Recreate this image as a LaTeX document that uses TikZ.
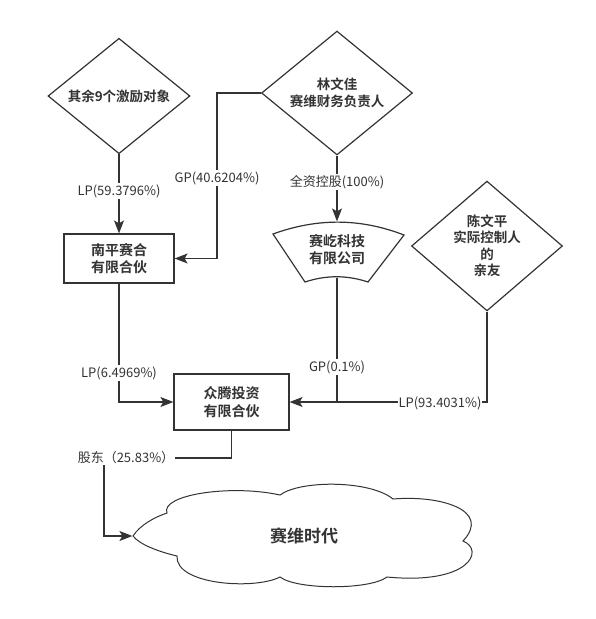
\documentclass[tikz,border=0pt]{standalone}
\usepackage{fontspec}
\setmainfont{Noto Sans CJK SC}[BoldFont={Noto Sans CJK SC Bold}]
\usetikzlibrary{calc,shapes.geometric,arrows.meta}
\definecolor{linegray}{HTML}{333333}

\begin{document}
\begin{tikzpicture}[x=1pt,y=-1pt,color=linegray,line width=1.2pt,
  dmd/.style={diamond,draw,inner sep=0pt,align=center,font=\bfseries\fontsize{13.5}{16.5}\selectfont},
  bx/.style={rectangle,draw,inner sep=0pt,align=center,font=\bfseries\fontsize{14}{17.5}\selectfont},
  txt/.style={inner sep=0pt,align=center,font=\bfseries\fontsize{14}{17.5}\selectfont},
  lbl/.style={fill=white,inner sep=1pt,font=\fontsize{13}{15}\selectfont},
  arr/.style={-{Stealth[length=13pt,width=10pt,inset=3pt]}}]
\useasboundingbox (0,0) rectangle (595,619);

%shapes
\node[dmd,minimum width=142pt,minimum height=98pt] (qy) at (119,96) {其余9个激励对象};
\node[dmd,minimum width=151pt,minimum height=92pt] (lin) at (337,93) {林文佳\\赛维财务负责人};
\node[dmd,minimum width=151pt,minimum height=105pt] (chen) at (487,246) {陈文平\\实际控制人\\的\\亲友};
\node[bx,minimum width=110pt,minimum height=49pt] (np) at (119,258.5) {南平赛合\\有限合伙};
\node[bx,minimum width=115pt,minimum height=56pt] (zt) at (231.5,402) {众腾投资\\有限合伙};
\node[txt,minimum width=131pt,minimum height=55pt] (kj) at (337,249.5) {赛屹科技\\有限公司};
\node[txt,minimum width=342pt,minimum height=102pt,font=\bfseries\fontsize{17}{20}\selectfont] (sw) at (304,536) {赛维时代};
\coordinate (gd) at (104,458);

\draw (273,234) .. controls (317,218) and (360,218) .. (404,235) -- (368,282)
  .. controls (347,275) and (326,275) .. (305,282) -- cycle;

\draw[line width=1pt] (133,536) .. controls (140,525) and (155,517) .. (167,513)
  .. controls (160,495) and (230,484) .. (280,495)
  .. controls (300,480) and (370,480) .. (393,499)
  .. controls (440,495) and (492,510) .. (463,541)
  .. controls (485,550) and (470,585) .. (387,577)
  .. controls (370,590) and (297,590) .. (280,577)
  .. controls (255,590) and (175,585) .. (177,556)
  .. controls (160,552) and (140,545) .. cycle;

%connectors
\draw[arr] (qy.south) -- (np.north);
\draw[arr] (lin.west) -- ++(-44,0) |- (np.east);
\draw[arr] (lin.south) -- (kj.north);
\draw[arr] (np.south) |- (zt.west);
\draw (kj.south) -- (kj.south |- zt.east);
\draw[arr] (chen.south) |- (zt.east);
\draw[arr] (zt.south) |- (gd) |- (sw.west);

%Labeling lines
\node[lbl] (l1) at (119,191) {LP(59.3796\%)};
\node[lbl] (l2) at (217,178) {GP(40.6204\%)};
\node[lbl] (l3) at (337,182) {全资控股(100\%)};
\node[lbl] (l4) at (119,373) {LP(6.4969\%)};
\node[lbl] (l5) at (337,367) {GP(0.1\%)};
\node[lbl] (l6) at (440,403) {LP(93.4031\%)};
\node[lbl] (l7) at (126,458) {股东（25.83\%）};
\end{tikzpicture}
\end{document}
